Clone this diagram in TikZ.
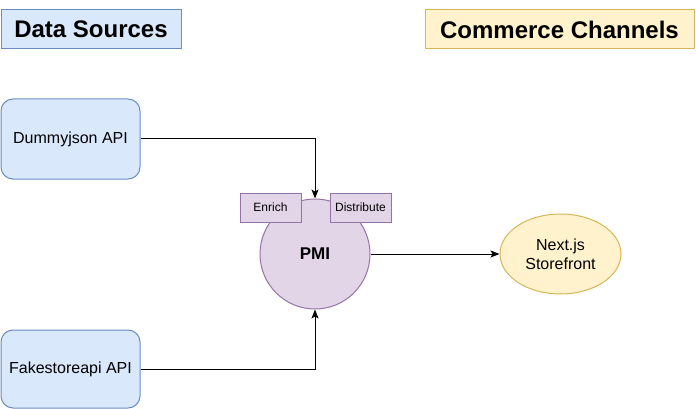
\documentclass[tikz,border=0pt]{standalone}
\usepackage{fontspec}
\setmainfont{Liberation Sans}
\usetikzlibrary{shapes.geometric,arrows.meta}
\definecolor{bluefill}{HTML}{DAE8FC}
\definecolor{bluedraw}{HTML}{6C8EBF}
\definecolor{yelfill}{HTML}{FFF2CC}
\definecolor{yeldraw}{HTML}{D6B656}
\definecolor{purfill}{HTML}{E1D5E7}
\definecolor{purdraw}{HTML}{9673A6}
\tikzset{
  title/.style={draw, line width=1pt, inner sep=0pt, font=\fontsize{24}{28}\selectfont\bfseries},
  source/.style={draw=bluedraw, fill=bluefill, line width=1pt, rounded corners=12pt, minimum width=139pt, inner sep=0pt, font=\fontsize{16}{19}\selectfont},
  tag/.style={draw=purdraw, fill=purfill, line width=1pt, minimum width=61pt, minimum height=29pt, inner sep=0pt, font=\fontsize{12}{14}\selectfont},
  conn/.style={line width=1pt, -{Stealth[length=9pt,width=7pt,inset=2pt]}},
}
\begin{document}
\begin{tikzpicture}[x=1pt,y=-1pt]
\useasboundingbox[fill=white] (0,0) rectangle (696,409);
\node[title, draw=bluedraw, fill=bluefill, minimum width=180pt, minimum height=39pt] (ds) at (91,29.5) {Data Sources};
\node[title, draw=yeldraw, fill=yelfill, minimum width=269pt, minimum height=39pt] (cc) at (559.5,29.5) {Commerce Channels};
\node[source, minimum height=80pt] (dj) at (70.5,139) {Dummyjson API};
\node[source, minimum height=78pt] (fs) at (70.5,369) {Fakestoreapi API};
\node[circle, draw=purdraw, fill=purfill, line width=1pt, minimum size=110pt, inner sep=0pt, font=\fontsize{17}{20}\selectfont\bfseries] (pmi) at (315,254) {PMI};
\node[tag] (en) at (270.5,207.5) {Enrich};
\node[tag] (di) at (360.5,207.5) {Distribute};
\node[ellipse, draw=yeldraw, fill=yelfill, line width=1pt, minimum width=121pt, minimum height=80pt, inner sep=0pt, align=center, font=\fontsize{16}{19}\selectfont] (nx) at (560.5,254) {Next.js\\Storefront};
\draw[conn] (dj.east) -| (pmi.north);
\draw[conn] (fs.east) -| (pmi.south);
\draw[conn] (pmi.east) -- (nx.west);
\end{tikzpicture}
\end{document}
